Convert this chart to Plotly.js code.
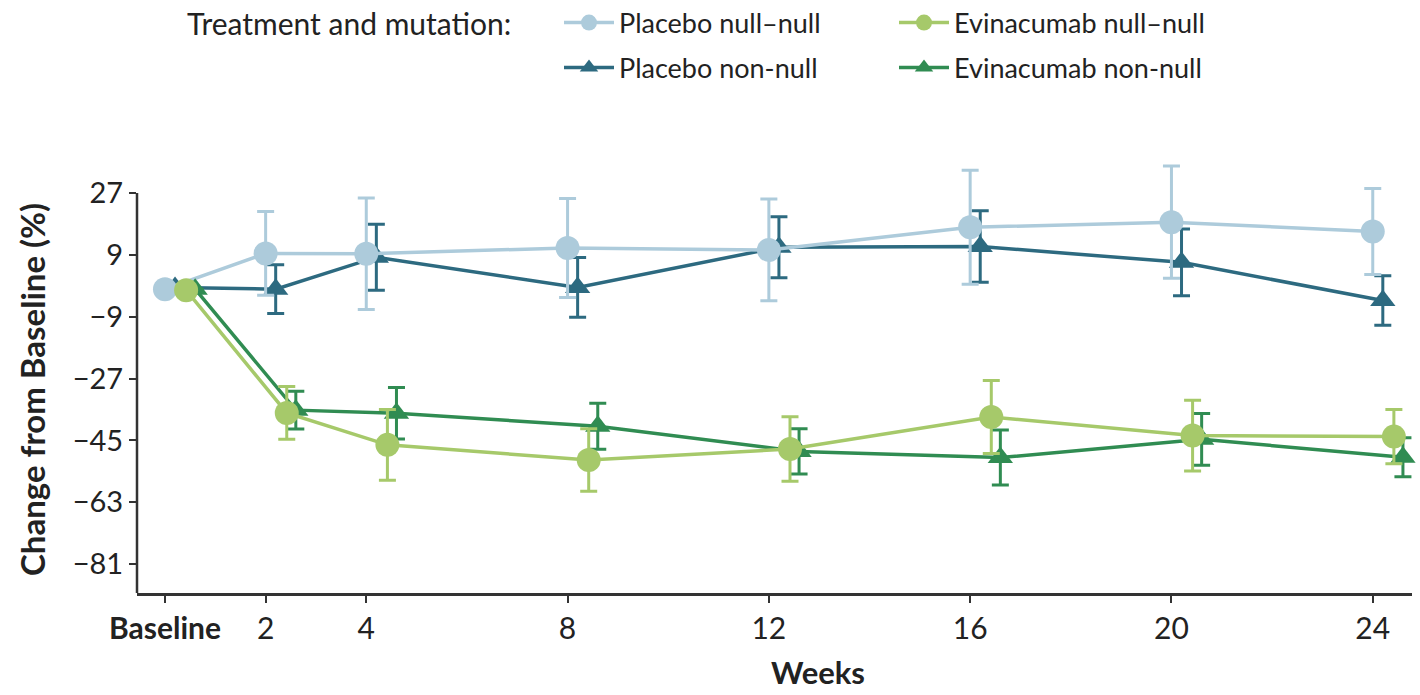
<!DOCTYPE html>
<html>
<head>
<meta charset="utf-8">
<script src="https://cdn.plot.ly/plotly-3.0.1.min.js"></script>
<style>html,body{margin:0;padding:0;background:#fff;}#chart{width:1420px;height:695px;}</style>
</head>
<body>
<div id="chart"></div>
<script>
// ---- data ----
const weeks = [0, 2, 4, 8, 12, 16, 20, 24];
const tickLabels = ['<b>Baseline</b>', '2', '4', '8', '12', '16', '20', '24'];
const yTicks = [27, 9, -9, -27, -45, -63, -81];

const legendTitle = 'Treatment and mutation:';
const xTitle = 'Weeks';
const yTitle = 'Change from Baseline (%)';
const seriesNames = ['Placebo null\u2013null', 'Evinacumab null\u2013null', 'Placebo non-null', 'Evinacumab non-null'];

const placeboNullNull = [-1.0, 9.4, 9.3, 11.0, 10.4, 17.0, 18.5, 15.8];
const placeboNullNullErr = [0, 12.2, 16.2, 14.4, 14.8, 16.6, 16.3, 12.5];

const placeboNonNull = [-0.5, -1.0, 8.3, -0.5, 11.2, 11.4, 6.8, -4.3];
const placeboNonNullErr = [0, 7.1, 9.6, 8.7, 8.9, 10.4, 9.7, 7.2];

const evinNullNull = [-1.3, -37.0, -46.3, -50.7, -47.5, -38.2, -43.6, -43.9];
const evinNullNullErr = [0, 7.7, 10.3, 9.1, 9.4, 10.6, 10.3, 7.9];

const evinNonNull = [-1.0, -36.2, -37.1, -40.9, -48.2, -50.0, -44.7, -49.9];
const evinNonNullErr = [0, 5.5, 7.5, 6.7, 6.6, 8.0, 7.5, 5.7];

// ---- styling ----
const FONT = 'Lato, "Open Sans", "Noto Sans", sans-serif';
const colors = {
  pnn: '#adcbdb',
  pnon: '#2d6a80',
  enn: '#a6c96a',
  enon: '#308c52'
};
const dodge = {pnn: 0, pnon: 0.2, enn: 0.42, enon: 0.6};

function mk(name, y, err, color, symbol, off, legendId, size) {
  return {
    type: 'scatter', mode: 'lines+markers', name: name,
    x: weeks.map(w => w + off), y: y,
    line: {color: color, width: 3.5},
    marker: {color: color, symbol: symbol, size: size},
    error_y: {type: 'data', array: err, visible: true, color: color, thickness: 3, width: 8.5},
    legend: legendId, cliponaxis: false
  };
}

const traces = [
  mk(seriesNames[2], placeboNonNull, placeboNonNullErr, colors.pnon, 'triangle-up', dodge.pnon, 'legend2', 22),
  mk(seriesNames[0], placeboNullNull, placeboNullNullErr, colors.pnn, 'circle', dodge.pnn, 'legend', 24),
  mk(seriesNames[3], evinNonNull, evinNonNullErr, colors.enon, 'triangle-up', dodge.enon, 'legend2', 22),
  mk(seriesNames[1], evinNullNull, evinNullNullErr, colors.enn, 'circle', dodge.enn, 'legend', 24)
];
// legend order inside each row
traces[1].legendrank = 1; traces[3].legendrank = 2;
traces[0].legendrank = 1; traces[2].legendrank = 2;

const legendBase = {
  orientation: 'h', xref: 'container', yref: 'container',
  xanchor: 'left', yanchor: 'middle',
  font: {size: 27, color: '#222'},
  entrywidth: 270, entrywidthmode: 'pixels',
  itemwidth: 50, bgcolor: 'rgba(0,0,0,0)'
};

const yRange = [-89.4, 36];
const layout = {
  width: 1420, height: 695,
  margin: {l: 137, r: 8, t: 162, b: 102},
  paper_bgcolor: '#fff', plot_bgcolor: '#fff',
  font: {family: FONT, color: '#222', size: 28},
  hovermode: false,
  showlegend: true,
  legend: Object.assign({}, legendBase, {x: 559 / 1420, y: 1 - 23 / 695}),
  legend2: Object.assign({}, legendBase, {x: 559 / 1420, y: 1 - 68 / 695}),
  xaxis: {
    range: [-0.556, 24.78],
    tickmode: 'array', tickvals: weeks, ticktext: tickLabels,
    ticks: 'outside', ticklen: 7, tickwidth: 2, tickcolor: '#333',
    showline: true, linecolor: '#333', linewidth: 2.5,
    showgrid: false, zeroline: false,
    tickfont: {size: 30, color: '#222'}
  },
  yaxis: {
    range: yRange,
    tickmode: 'array', tickvals: yTicks,
    ticks: 'outside', ticklen: 7, tickwidth: 2, tickcolor: '#333',
    showline: false, showgrid: false, zeroline: false,
    tickfont: {size: 29, color: '#222'}
  },
  annotations: [
    {text: legendTitle, xref: 'paper', yref: 'paper', x: (185 - 137) / 1275, y: (593 - 23) / 431,
     xanchor: 'left', yanchor: 'middle', showarrow: false, font: {size: 30, color: '#222'}},
    {text: '<b>' + xTitle + '</b>', xref: 'paper', yref: 'paper', x: (818 - 137) / 1275, y: (593 - 672) / 431,
     xanchor: 'center', yanchor: 'middle', showarrow: false, font: {size: 31, color: '#222'}},
    {text: '<b>' + yTitle + '</b>', xref: 'paper', yref: 'paper', x: (32 - 137) / 1275, y: (593 - 390) / 431,
     xanchor: 'center', yanchor: 'middle', textangle: -90, showarrow: false, font: {size: 33, color: '#222'}}
  ],
  shapes: [{
    type: 'line', xref: 'paper', yref: 'y', x0: 0, x1: 0,
    y0: yRange[0], y1: Math.max(...yTicks),
    line: {color: '#333', width: 2.5}
  }]
};

Plotly.newPlot('chart', traces, layout, {displayModeBar: false, staticPlot: true});
</script>
</body>
</html>
